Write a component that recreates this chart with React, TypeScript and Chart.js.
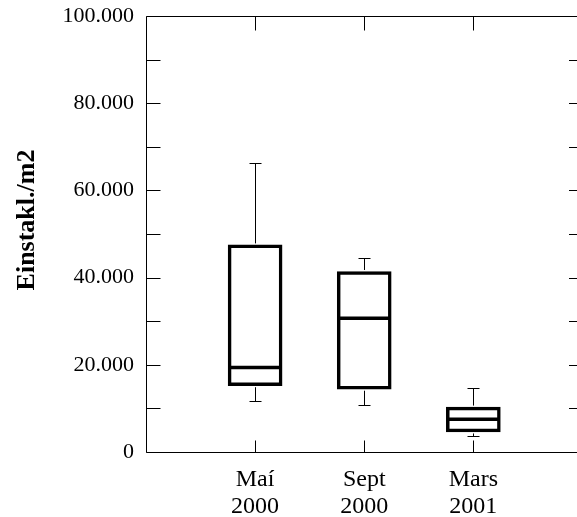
import React, { useEffect, useRef } from 'react';
import { Chart, registerables } from 'chart.js';

Chart.register(...registerables);

// ---- data ----
const categoryLines: string[][] = [
  ['Maí', '2000'],
  ['Sept', '2000'],
  ['Mars', '2001'],
];
const positions = [1, 2, 3];
const whiskerLow = [11700, 10800, 3700];
const q1 = [15200, 14400, 4600];
const median = [19400, 30700, 7500];
const q3 = [47500, 41400, 10300];
const whiskerHigh = [66300, 44400, 14600];
const yTickStep = 10000;
const yLabelStep = 20000;
const yMax = 100000;
const yTitle = 'Einstakl./m2';

const SERIF = '"Liberation Serif", "Times New Roman", serif';

function formatThousands(v: number): string {
  return Math.round(v).toString().replace(/\B(?=(\d{3})+(?!\d))/g, '.');
}

const boxPlugin = {
  id: 'boxExtras',
  afterDatasetsDraw(chart: any) {
    const { ctx, scales } = chart;
    const x = scales.x;
    const y = scales.y;
    ctx.save();
    ctx.strokeStyle = '#000';
    positions.forEach((p, i) => {
      const cx = Math.round(x.getPixelForValue(p)) + 0.5;
      const half = 26;
      const capHalf = 6;
      ctx.lineWidth = 1;
      const yHi = Math.round(y.getPixelForValue(whiskerHigh[i])) + 0.5;
      const yQ3 = y.getPixelForValue(q3[i]);
      const yLo = Math.round(y.getPixelForValue(whiskerLow[i])) + 0.5;
      const yQ1 = y.getPixelForValue(q1[i]);
      ctx.beginPath();
      ctx.moveTo(cx, yQ3 - 1.5);
      ctx.lineTo(cx, yHi);
      ctx.moveTo(cx - capHalf, yHi);
      ctx.lineTo(cx + capHalf, yHi);
      ctx.moveTo(cx, yQ1 + 1.5);
      ctx.lineTo(cx, yLo);
      ctx.moveTo(cx - capHalf, yLo);
      ctx.lineTo(cx + capHalf, yLo);
      ctx.stroke();
      ctx.lineWidth = 3.5;
      const ym = y.getPixelForValue(median[i]);
      ctx.beginPath();
      ctx.moveTo(cx - half, ym);
      ctx.lineTo(cx + half, ym);
      ctx.stroke();
    });
    ctx.restore();
  },
  afterDraw(chart: any) {
    const { ctx, scales, chartArea } = chart;
    const x = scales.x;
    const y = scales.y;
    const L = Math.round(chartArea.left) + 0.5;
    const T = Math.round(chartArea.top) + 0.5;
    const B = Math.round(chartArea.bottom) + 0.5;
    ctx.save();
    ctx.strokeStyle = '#000';
    ctx.lineWidth = 1;
    ctx.beginPath();
    ctx.moveTo(L, T);
    ctx.lineTo(chartArea.right + 10, T);
    ctx.moveTo(L, T);
    ctx.lineTo(L, B);
    ctx.lineTo(chartArea.right + 10, B);
    ctx.stroke();
    y.ticks.forEach((t: any) => {
      const py = Math.round(y.getPixelForValue(t.value)) + 0.5;
      ctx.beginPath();
      ctx.moveTo(L, py);
      ctx.lineTo(L + 14, py);
      ctx.moveTo(chartArea.right, py);
      ctx.lineTo(chartArea.right - 8, py);
      ctx.stroke();
    });
    x.ticks.forEach((t: any) => {
      const px = Math.round(x.getPixelForValue(t.value)) + 0.5;
      ctx.beginPath();
      ctx.moveTo(px, T);
      ctx.lineTo(px, T + 14);
      ctx.moveTo(px, B);
      ctx.lineTo(px, B - 12);
      ctx.stroke();
    });
    ctx.fillStyle = '#000';
    ctx.font = `bold 26px ${SERIF}`;
    ctx.translate(27, 220);
    ctx.rotate(-Math.PI / 2);
    ctx.textAlign = 'center';
    ctx.textBaseline = 'middle';
    ctx.fillText(yTitle, 0, 0);
    ctx.restore();
  },
};

export default function App() {
  const ref = useRef<HTMLCanvasElement | null>(null);
  useEffect(() => {
    if (!ref.current) return;
    const chart = new Chart(ref.current, {
      type: 'bar',
      data: {
        datasets: [
          {
            data: positions.map((p, i) => ({ x: p, y: [q1[i], q3[i]] })) as any,
            backgroundColor: '#fff',
            borderColor: '#000',
            borderWidth: 3.5,
            borderSkipped: false,
            barThickness: 54,
          },
        ],
      },
      options: {
        animation: false,
        responsive: true,
        maintainAspectRatio: false,
        layout: { padding: { top: 16, left: 0, right: 0, bottom: 0 } },
        plugins: {
          legend: { display: false },
          tooltip: { enabled: false },
          title: { display: false },
        },
        scales: {
          x: {
            type: 'linear',
            min: 0,
            max: 3.95,
            offset: false,
            grid: { display: false, drawTicks: false },
            border: { display: false },
            afterBuildTicks: (s: any) => {
              s.ticks = positions.map((v) => ({ value: v }));
            },
            afterFit: (s: any) => {
              s.height = 65;
              s.paddingLeft = 0;
              s.paddingRight = 0;
            },
            ticks: {
              autoSkip: false,
              maxRotation: 0,
              padding: 14,
              color: '#000',
              font: { family: SERIF, size: 24, lineHeight: 1.13 },
              callback: (v: any) => {
                const i = positions.indexOf(Number(v));
                return i >= 0 ? categoryLines[i] : '';
              },
            },
          },
          y: {
            type: 'linear',
            min: 0,
            max: yMax,
            grid: { display: false, drawTicks: false },
            border: { display: false },
            afterFit: (s: any) => {
              s.width = 146;
              s.paddingTop = 0;
              s.paddingBottom = 0;
            },
            ticks: {
              stepSize: yTickStep,
              autoSkip: false,
              padding: 12,
              color: '#000',
              font: { family: SERIF, size: 22 },
              callback: (v: any) => {
                const n = Number(v);
                return n % yLabelStep === 0 ? formatThousands(n) : '';
              },
            },
          },
        },
      },
      plugins: [boxPlugin],
    });
    return () => chart.destroy();
  }, []);
  return (
    <div style={{ position: 'fixed', left: 0, top: 0, width: 577, height: 517, background: '#fff' }}>
      <canvas ref={ref} />
    </div>
  );
}
